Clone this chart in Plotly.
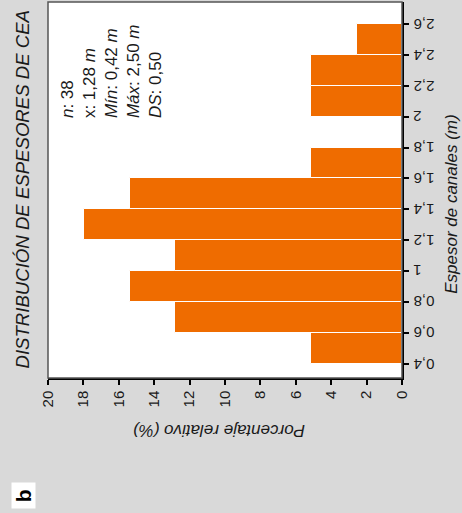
import plotly.graph_objects as go

# Bin edges (m) and tick labels
bin_edges = [0.4, 0.6, 0.8, 1.0, 1.2, 1.4, 1.6, 1.8, 2.0, 2.2, 2.4, 2.6]
edge_labels = ["0,4", "0,6", "0,8", "1", "1,2", "1,4", "1,6", "1,8", "2", "2,2", "2,4", "2,6"]
# Relative percentage per bin
pct = [5.13, 12.82, 15.38, 12.82, 17.95, 15.38, 5.13, 0.0, 5.13, 5.13, 2.56]
pct_ticks = list(range(0, 21, 2))

title_text = "DISTRIBUCIÓN DE ESPESORES DE CEA"
stats_text = ("<i>n</i>: 38<br>x: 1,28 <i>m</i><br><i>Mín</i>: 0,42 <i>m</i>"
              "<br><i>Máx</i>: 2,50 <i>m</i><br><i>DS</i>: 0,50")
x_title = "Espesor de canales (m)"
y_title = "Porcentaje relativo (%)"

centers = [(a + b) / 2 for a, b in zip(bin_edges[:-1], bin_edges[1:])]
widths = [b - a for a, b in zip(bin_edges[:-1], bin_edges[1:])]

FONT = "Liberation Sans, Arial, sans-serif"

fig = go.Figure(go.Bar(
    y=centers, x=pct, width=widths, orientation="h",
    marker=dict(color="#EF6C00", line=dict(color="white", width=1)),
    hoverinfo="skip",
))

fig.update_layout(
    width=462, height=513,
    margin=dict(l=48, r=60, t=2, b=135),
    paper_bgcolor="#d9d9d9", plot_bgcolor="white",
    showlegend=False,
    font=dict(family=FONT, color="#1a1a1a"),
    bargap=0,
)

fig.update_xaxes(
    range=[20, 0], tickvals=pct_ticks, tickangle=-90,
    ticks="outside", ticklen=5, tickwidth=1.5, tickcolor="black",
    showline=True, linecolor="black", linewidth=1.5,
    showgrid=False, zeroline=False, tickfont=dict(size=15, family=FONT),
)
fig.update_yaxes(
    range=[0.309, 2.742], side="right", tickvals=bin_edges, showticklabels=False,
    ticks="outside", ticklen=5, tickwidth=1.5, tickcolor="black",
    showline=True, linecolor="black", linewidth=1.5,
    showgrid=False, zeroline=False,
)

# category tick labels, turned upside down
for val, lab in zip(bin_edges, edge_labels):
    fig.add_annotation(text=lab, xref="paper", yref="y", x=1.026, y=val,
                       xanchor="left", yanchor="middle", textangle=180,
                       showarrow=False, font=dict(size=15, family=FONT))

# frame on the other two sides
fig.add_shape(type="rect", xref="paper", yref="paper", x0=0, y0=0, x1=1, y1=1,
              line=dict(color="#555555", width=1.5), layer="above")

fig.add_annotation(text="<i>" + title_text + "</i>", xref="paper", yref="paper",
                   x=-0.0734, y=0.0186, xanchor="center", yanchor="bottom",
                   textangle=-90, showarrow=False, font=dict(size=18.6, family=FONT))
fig.add_annotation(text=stats_text, xref="paper", yref="paper",
                   x=0.178, y=0.686, xanchor="center", yanchor="bottom", align="left",
                   textangle=-90, showarrow=False, font=dict(size=17, family=FONT))
fig.add_annotation(text="<i>" + x_title + "</i>", xref="paper", yref="paper",
                   x=1.141, y=0.463, xanchor="center", yanchor="middle",
                   textangle=-90, showarrow=False, font=dict(size=17, family=FONT))
fig.add_annotation(text="<i>" + y_title + "</i>", xref="paper", yref="paper",
                   x=0.483, y=-0.138, xanchor="center", yanchor="middle",
                   textangle=180, showarrow=False, font=dict(size=17, family=FONT))
fig.add_annotation(text="&nbsp;<b>b</b>&nbsp;", xref="paper", yref="paper",
                   x=-0.0692, y=-0.3125, xanchor="center", yanchor="middle",
                   textangle=-90, showarrow=False, bgcolor="white", borderpad=0,
                   font=dict(size=21, family=FONT, color="black"))

fig.write_html("out.html", config={"displayModeBar": False},
               post_script="document.body.style.margin='0';")
